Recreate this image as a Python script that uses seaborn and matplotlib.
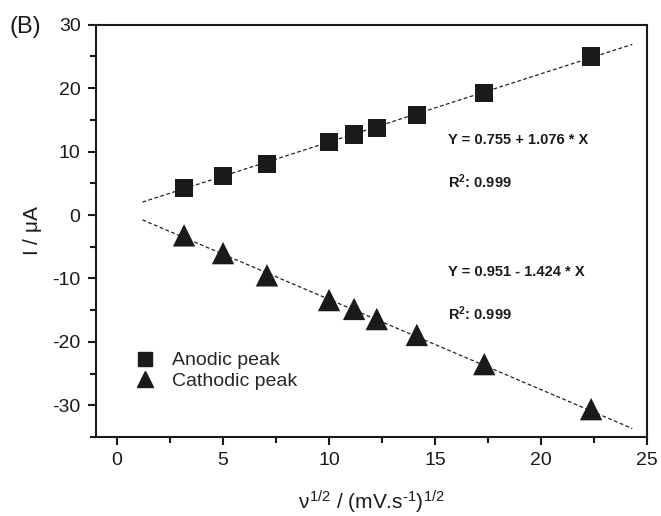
import numpy as np
import pandas as pd
import seaborn as sns
import matplotlib
matplotlib.use("Agg")
import matplotlib.pyplot as plt
from matplotlib.ticker import MultipleLocator
from matplotlib.lines import Line2D

# Data
sqrt_scan = [3.16, 5.0, 7.07, 10.0, 11.18, 12.25, 14.14, 17.32, 22.36]
anodic = [4.3, 6.2, 8.1, 11.5, 12.7, 13.7, 15.8, 19.3, 25.0]
cathodic = [-3.2, -6.0, -9.5, -13.4, -14.8, -16.4, -18.9, -23.5, -30.6]
fit_anodic = (0.755, 1.076)
fit_cathodic = (0.951, -1.424)
fit_range = [1.2, 24.3]
series_names = ["Anodic peak", "Cathodic peak"]

sns.set_style("ticks")
plt.rcParams['font.family'] = ['Liberation Sans', 'DejaVu Sans']
plt.rcParams['mathtext.fontset'] = 'custom'
plt.rcParams['mathtext.rm'] = 'Liberation Sans'
plt.rcParams['mathtext.it'] = 'Liberation Sans'
plt.rcParams['mathtext.bf'] = 'Liberation Sans:bold'
plt.rcParams['axes.unicode_minus'] = False

INK = "#1a1a1a"
fig = plt.figure(figsize=(6.61, 5.16), dpi=100)
ax = fig.add_axes([0.145, 0.153, 0.834, 0.799])

xf = np.array(fit_range)
for (a, b) in (fit_anodic, fit_cathodic):
    sns.lineplot(x=xf, y=a + b * xf, ax=ax, color="#222222", lw=0.9,
                 linestyle=(0, (3, 2)), zorder=1)

df_a = pd.DataFrame({"x": sqrt_scan, "y": anodic})
df_c = pd.DataFrame({"x": sqrt_scan, "y": cathodic})
sns.scatterplot(data=df_a, x="x", y="y", marker="s", color=INK, s=170,
                edgecolor="none", ax=ax, zorder=3, legend=False)
sns.scatterplot(data=df_c, x="x", y="y", marker="^", color=INK, s=260,
                edgecolor="none", ax=ax, zorder=3, legend=False)

handles = [Line2D([], [], ls="none", marker="s", color=INK, markersize=10),
           Line2D([], [], ls="none", marker="^", color=INK, markersize=12)]
ax.legend(handles, series_names, loc="lower left", bbox_to_anchor=(0.04, 0.072),
          frameon=False, fontsize=14, handletextpad=0.9, handlelength=1.0,
          labelspacing=0.15, borderaxespad=0.5)

ax.set_xlim(-1, 25)
ax.set_ylim(-35, 30)
ax.xaxis.set_major_locator(MultipleLocator(5))
ax.xaxis.set_minor_locator(MultipleLocator(2.5))
ax.yaxis.set_major_locator(MultipleLocator(10))
ax.yaxis.set_minor_locator(MultipleLocator(5))
ax.tick_params(axis="both", which="major", direction="out", length=6, width=1.5,
               labelsize=14, color=INK, labelcolor=INK, pad=5)
ax.tick_params(axis="both", which="minor", direction="out", length=4, width=1.5,
               color=INK)
for sp in ax.spines.values():
    sp.set_visible(True)
    sp.set_linewidth(1.5)
    sp.set_color(INK)

ax.set_xlabel("$\\nu^{1/2}$ / (mV.s$^{\u2010 1}$)$^{1/2}$", fontsize=15, labelpad=14, color=INK)
ax.set_ylabel(r"I / $\mu$A", fontsize=15, labelpad=6, color=INK)

tkw = dict(fontsize=10.5, fontweight="bold", color=INK)
ax.text(15.6, 11.9, "Y = 0.755 + 1.076 * X", **tkw, va="center")
ax.text(15.6, 5.3, r"R$^{\mathbf{2}}$: 0.999", **tkw, va="center")
ax.text(15.6, -9.0, "Y = 0.951 - 1.424 * X", **tkw, va="center")
ax.text(15.6, -15.6, r"R$^{\mathbf{2}}$: 0.999", **tkw, va="center")

fig.text(0.015, 0.947, "(B)", fontsize=17, color=INK, va="center")

fig.savefig("out.png", dpi=100)
